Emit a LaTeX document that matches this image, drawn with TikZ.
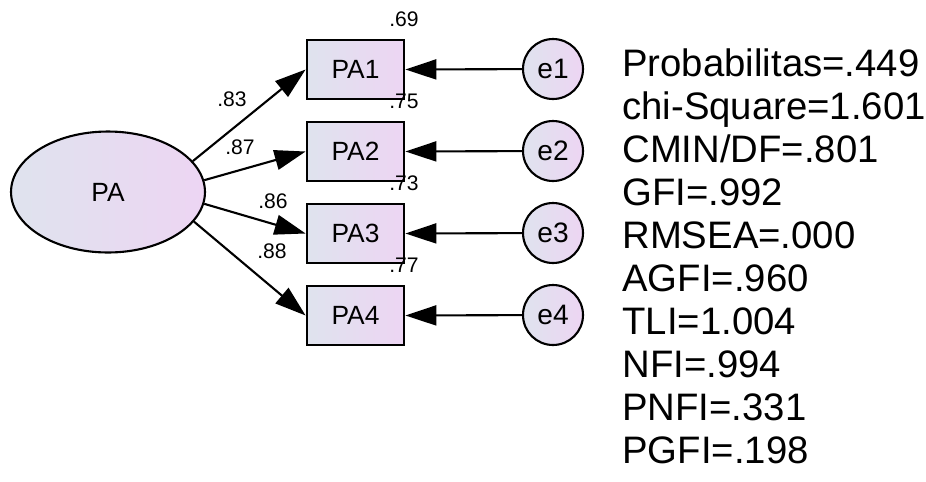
\documentclass[tikz,border=0pt]{standalone}
\usepackage{fontspec}
\setmainfont{Liberation Sans}
\usetikzlibrary{arrows.meta,shapes.geometric}
\definecolor{fillA}{HTML}{DFE3EE}
\definecolor{fillB}{HTML}{EDD5F3}
\begin{document}
\begin{tikzpicture}[x=0.02cm, y=-0.02cm, >={Triangle[length=0.62cm,width=0.4cm]},
  latent/.style={ellipse,draw,line width=1.2pt,left color=fillA,right color=fillB,minimum width=3.88cm,minimum height=2.42cm,inner sep=0pt,font=\fontsize{15}{17}\selectfont},
  observed/.style={rectangle,draw,line width=1.6pt,left color=fillA,right color=fillB,minimum width=1.94cm,minimum height=1.18cm,inner sep=0pt,font=\fontsize{15}{17}\selectfont},
  error/.style={circle,draw,line width=1.2pt,left color=fillA,right color=fillB,minimum size=1.2cm,inner sep=0pt,font=\fontsize{16}{18}\selectfont},
  coef/.style={inner sep=0pt,font=\fontsize{12}{13}\selectfont}]
\useasboundingbox (0,0) rectangle (926,481);
\node[latent] (PA) at (108,192) {PA};
\foreach \i in {1,...,4} {
  \node[observed] (PA\i) at (355.5,-12.5+82*\i) {PA\i};
  \node[error] (e\i) at (553,-13+82*\i) {e\i};
  \node[coef] (r\i) at (404,-62.5+82*\i) {.\ifcase\i\or69\or75\or73\or77\fi};
}
\node[coef] (l1) at (232,99) {.83};
\node[coef] (l2) at (240,147) {.87};
\node[coef] (l3) at (273,201) {.86};
\node[coef] (l4) at (272,251) {.88};
\begin{scope}[line width=1.2pt]
\draw[->] (PA.20) -- (PA1.west);
\draw[->] (PA.7) -- (PA2.west);
\draw[->] (PA.-7) -- (PA3.west);
\draw[->] (PA.-19) -- (PA4.west);
\foreach \i in {1,...,4}
  \draw[->] (e\i) -- (PA\i.east);
\end{scope}
% fit indices
\foreach \t [count=\i] in {Probabilitas=.449,chi-Square=1.601,CMIN/DF=.801,GFI=.992,RMSEA=.000,AGFI=.960,TLI=1.004,NFI=.994,PNFI=.331,PGFI=.198}
  \node[anchor=base west,inner sep=0pt,font=\fontsize{21.8}{24}\selectfont] (s\i) at (622,33.7+43*\i) {\t};
\end{tikzpicture}
\end{document}
